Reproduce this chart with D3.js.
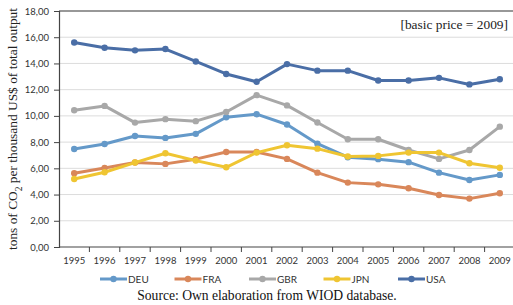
<!DOCTYPE html>
<html>
<head>
<meta charset="utf-8">
<script src="https://cdn.jsdelivr.net/npm/d3@7"></script>
<style>
  body { margin: 0; background: #fff; }
  svg { display: block; }
</style>
</head>
<body>
<div id="chart"></div>
<script>
// categories and series
const years = ["1995","1996","1997","1998","1999","2000","2001","2002","2003","2004","2005","2006","2007","2008","2009"];
const deu = [7.48, 7.86, 8.47, 8.32, 8.63, 9.90, 10.13, 9.34, 7.88, 6.85, 6.70, 6.47, 5.67, 5.11, 5.50];
const fra = [5.62, 6.03, 6.44, 6.34, 6.70, 7.25, 7.25, 6.72, 5.67, 4.91, 4.78, 4.48, 3.97, 3.69, 4.10];
const gbr = [10.43, 10.76, 9.49, 9.75, 9.60, 10.30, 11.58, 10.80, 9.50, 8.22, 8.22, 7.40, 6.72, 7.40, 9.18];
const jpn = [5.19, 5.70, 6.44, 7.15, 6.59, 6.08, 7.20, 7.76, 7.50, 6.90, 6.95, 7.20, 7.20, 6.39, 6.05];
const usa = [15.60, 15.20, 15.00, 15.10, 14.15, 13.20, 12.60, 13.95, 13.45, 13.45, 12.70, 12.70, 12.90, 12.40, 12.80];
const yTicks = [0, 2, 4, 6, 8, 10, 12, 14, 16, 18];

const series = [
  {name: "DEU", values: deu, color: "#6499c9"},
  {name: "FRA", values: fra, color: "#d9875a"},
  {name: "GBR", values: gbr, color: "#a8a8a8"},
  {name: "JPN", values: jpn, color: "#efc532"},
  {name: "USA", values: usa, color: "#4a6ea6"}
];

const width = 513, height = 305;
const margin = {top: 11, right: -2, bottom: 58, left: 59};

const svg = d3.select("#chart").append("svg")
    .attr("width", width)
    .attr("height", height);

const x = d3.scaleBand()
    .domain(years)
    .range([margin.left, width - margin.right]);

const y = d3.scaleLinear()
    .domain([0, 18])
    .range([height - margin.bottom, margin.top]);

const numFmt = d => d3.format(".2f")(d).replace(".", ",");
const sans = "Lato, 'Open Sans', sans-serif";
const serif = "'Liberation Serif', 'DejaVu Serif', serif";

// gridlines
svg.append("g")
  .selectAll("line")
  .data(yTicks.slice(1, -1))
  .enter().append("line")
    .attr("x1", margin.left)
    .attr("x2", width)
    .attr("y1", d => y(d))
    .attr("y2", d => y(d))
    .attr("stroke", "#dcdcdc")
    .attr("stroke-width", 1);

// top frame line
svg.append("line")
    .attr("x1", margin.left)
    .attr("x2", width)
    .attr("y1", y(18))
    .attr("y2", y(18))
    .attr("stroke", "#333")
    .attr("stroke-width", 1.2);

// y axis
const yAxis = svg.append("g")
    .attr("transform", `translate(${margin.left},0)`)
    .call(d3.axisLeft(y).tickValues(yTicks).tickFormat(numFmt).tickSize(5).tickPadding(5));
yAxis.select(".domain").attr("stroke", "#444").attr("stroke-width", 1.2);
yAxis.selectAll(".tick line").attr("stroke", "#444");
yAxis.selectAll("text")
    .style("font-family", sans)
    .style("font-size", "9.5px")
    .attr("fill", "#333");

// x axis (ticks between categories)
const xAxisG = svg.append("g")
    .attr("transform", `translate(0,${y(0)})`);
xAxisG.append("line")
    .attr("x1", margin.left)
    .attr("x2", width)
    .attr("stroke", "#444")
    .attr("stroke-width", 1.2);
xAxisG.selectAll(".xtick")
  .data(years.slice(1))
  .enter().append("line")
    .attr("x1", d => x(d))
    .attr("x2", d => x(d))
    .attr("y1", 0)
    .attr("y2", 5)
    .attr("stroke", "#444");
xAxisG.selectAll(".xlab")
  .data(years)
  .enter().append("text")
    .attr("x", d => x(d) + x.bandwidth() / 2)
    .attr("y", 17)
    .attr("text-anchor", "middle")
    .style("font-family", sans)
    .style("font-size", "9.5px")
    .attr("fill", "#333")
    .text(d => d);

// lines and markers
const line = d3.line()
    .x((d, i) => x(years[i]) + x.bandwidth() / 2)
    .y(d => y(d));

const sg = svg.selectAll(".series")
  .data(series)
  .enter().append("g");

sg.append("path")
    .attr("d", d => line(d.values))
    .attr("fill", "none")
    .attr("stroke", d => d.color)
    .attr("stroke-width", 3)
    .attr("stroke-linejoin", "round");

sg.each(function(s) {
  d3.select(this).selectAll("circle")
    .data(s.values)
    .enter().append("circle")
      .attr("cx", (d, i) => x(years[i]) + x.bandwidth() / 2)
      .attr("cy", d => y(d))
      .attr("r", 3.2)
      .attr("fill", s.color);
});

// y label
svg.append("text")
    .attr("transform", `translate(17,${y(9)}) rotate(-90)`)
    .attr("text-anchor", "middle")
    .style("font-family", serif)
    .style("font-size", "13.4px")
    .attr("fill", "#222")
    .html("tons of CO<tspan baseline-shift='sub' font-size='9.5px'>2</tspan> per thousand US$ of total output");

// note
svg.append("text")
    .attr("x", 508)
    .attr("y", 29)
    .attr("text-anchor", "end")
    .style("font-family", serif)
    .style("font-size", "13.4px")
    .attr("fill", "#222")
    .text("[basic price = 2009]");

// legend
const legend = svg.append("g")
    .attr("transform", "translate(100,279)");
const li = legend.selectAll("g")
  .data(series)
  .enter().append("g")
    .attr("transform", (d, i) => `translate(${i * 74.5},0)`);
li.append("line")
    .attr("x1", 0).attr("x2", 27)
    .attr("stroke", d => d.color)
    .attr("stroke-width", 3);
li.append("circle")
    .attr("cx", 13.5)
    .attr("r", 3.2)
    .attr("fill", d => d.color);
li.append("text")
    .attr("x", 28)
    .attr("y", 3.5)
    .style("font-family", sans)
    .style("font-size", "10px")
    .attr("fill", "#333")
    .text(d => d.name);

// source
svg.append("text")
    .attr("x", 267)
    .attr("y", 300)
    .attr("text-anchor", "middle")
    .style("font-family", serif)
    .style("font-size", "13.6px")
    .attr("fill", "#111")
    .text("Source: Own elaboration from WIOD database.");
</script>
</body>
</html>
